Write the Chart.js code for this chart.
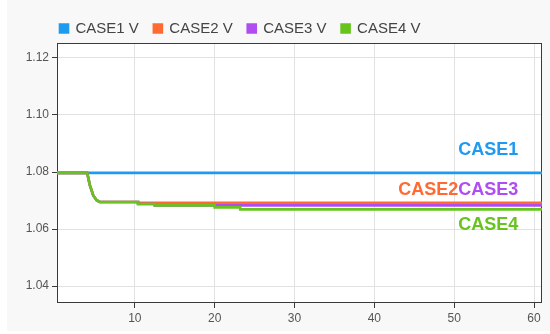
<!DOCTYPE html>
<html>
<head>
<meta charset="utf-8">
<script src="https://cdn.jsdelivr.net/npm/chart.js@4"></script>
<style>
  html, body { margin: 0; padding: 0; background: #ffffff; }
  #wrap { width: 550px; height: 334px; }
</style>
</head>
<body>
<div id="wrap"><canvas id="c" width="550" height="334"></canvas></div>
<script>
// ---- data ----
const seriesNames = ['CASE1 V', 'CASE2 V', 'CASE3 V', 'CASE4 V'];
const xs    = [0.25, 4.03, 4.37, 4.58, 4.79, 5.21, 5.6, 10.4, 10.4, 12.5, 12.5, 20.0, 20.0, 23.2, 23.2, 61];
const case1 = [1.0797, 1.0797, 1.0797, 1.0797, 1.0797, 1.0797, 1.0797, 1.0797, 1.0797, 1.0797, 1.0797, 1.0797, 1.0797, 1.0797, 1.0797, 1.0797];
const case2 = [1.0797, 1.0797, 1.0753, 1.0736, 1.0718, 1.0701, 1.0695, 1.0695, 1.0692, 1.0692, 1.0692, 1.0692, 1.0692, 1.0692, 1.0692, 1.0692];
const case3 = [1.0797, 1.0797, 1.0753, 1.0736, 1.0718, 1.0701, 1.0695, 1.0695, 1.0688, 1.0688, 1.0683, 1.0683, 1.0683, 1.0683, 1.0683, 1.0683];
const case4 = [1.0797, 1.0797, 1.0753, 1.0736, 1.0718, 1.0701, 1.0695, 1.0695, 1.0688, 1.0688, 1.0683, 1.0683, 1.0676, 1.0676, 1.0669, 1.0669];
const xTicks = [10, 20, 30, 40, 50, 60];
const yTicks = [1.04, 1.06, 1.08, 1.10, 1.12];
const endLabels = ['CASE1', 'CASE2', 'CASE3', 'CASE4'];

const colors = ['#1E9BF0', '#FF6A33', '#B04CF2', '#66C41C'];
const allSeries = [case1, case2, case3, case4];
const drawOrder = [3, 2, 1, 0]; // CASE4 on top

const font = "'Liberation Sans', Arial, sans-serif";

// label placement (data coordinates) for the in-plot texts
const labelPlacement = [
  { x: 50.5, y: 1.0876, align: 'left' },
  { x: 50.5, y: 1.0736, align: 'right' },
  { x: 50.5, y: 1.0736, align: 'left' },
  { x: 50.5, y: 1.0613, align: 'left' }
];

const datasets = allSeries.map((ys, i) => ({
  label: seriesNames[i],
  data: xs.map((x, k) => ({ x: x, y: ys[k] })),
  borderColor: colors[i],
  backgroundColor: colors[i],
  borderWidth: 2.6,
  pointRadius: 0,
  tension: 0,
  fill: false,
  order: drawOrder[i]
}));

const bgPlugin = {
  id: 'bg',
  beforeDraw(chart) {
    const ctx = chart.ctx;
    const a = chart.chartArea;
    ctx.save();
    ctx.fillStyle = '#ffffff';
    ctx.fillRect(0, 0, chart.width, chart.height);
    ctx.fillStyle = '#f8f8f8';
    ctx.fillRect(7, 0, chart.width - 7, 331);
    ctx.fillStyle = '#ffffff';
    ctx.fillRect(a.left, a.top, a.right - a.left, a.bottom - a.top);
    ctx.restore();
    if (chart.legend) {
      chart.legend.left = 45;
      chart.legend.top = 6;
    }
  },
  beforeDatasetsDraw(chart) {
    const ctx = chart.ctx;
    const a = chart.chartArea;
    ctx.save();
    ctx.strokeStyle = '#3a3a3a';
    ctx.lineWidth = 1;
    ctx.strokeRect(Math.round(a.left) + 0.5, Math.round(a.top) + 0.5,
                   Math.round(a.right - a.left) - 1, Math.round(a.bottom - a.top) - 1);
    ctx.restore();
  },
  afterDatasetsDraw(chart) {
    const ctx = chart.ctx;
    const xs_ = chart.scales.x, ys_ = chart.scales.y;
    ctx.save();
    ctx.font = "bold 18px " + font;
    ctx.textBaseline = 'middle';
    endLabels.forEach((t, i) => {
      const p = labelPlacement[i];
      ctx.fillStyle = colors[i];
      ctx.textAlign = p.align;
      ctx.fillText(t, xs_.getPixelForValue(p.x), ys_.getPixelForValue(p.y));
    });
    ctx.restore();
  }
};

new Chart(document.getElementById('c'), {
  type: 'line',
  data: { datasets: datasets },
  options: {
    responsive: false,
    devicePixelRatio: 1,
    animation: false,
    layout: { padding: { left: 7, right: 8, top: 3, bottom: 0 } },
    plugins: {
      legend: {
        position: 'top',
        align: 'start',
        labels: {
          boxWidth: 8,
          boxHeight: 8,
          padding: 15,
          color: '#444',
          font: { family: font, size: 15 },
          sort: (a, b) => a.datasetIndex - b.datasetIndex
        }
      },
      tooltip: { enabled: false }
    },
    scales: {
      x: {
        type: 'linear',
        min: 0.25,
        max: 61,
        afterBuildTicks: s => { s.ticks = xTicks.map(v => ({ value: v })); },
        afterFit: s => { s.height = 31; },
        grid: { color: '#e2e2e2', tickColor: '#3a3a3a', tickLength: 5, lineWidth: 1 },
        border: { display: false },
        ticks: { color: '#555', font: { family: font, size: 12 }, padding: 3, maxRotation: 0 }
      },
      y: {
        type: 'linear',
        min: 1.03404,
        max: 1.12526,
        afterBuildTicks: s => { s.ticks = yTicks.map(v => ({ value: v })); },
        afterFit: s => { s.width = 50; },
        grid: { color: '#e2e2e2', tickColor: '#3a3a3a', tickLength: 5, lineWidth: 1 },
        border: { display: false },
        ticks: { color: '#555', font: { family: font, size: 12 }, padding: 3,
                 callback: v => Number(v).toFixed(2) }
      }
    }
  },
  plugins: [bgPlugin]
});
</script>
</body>
</html>
